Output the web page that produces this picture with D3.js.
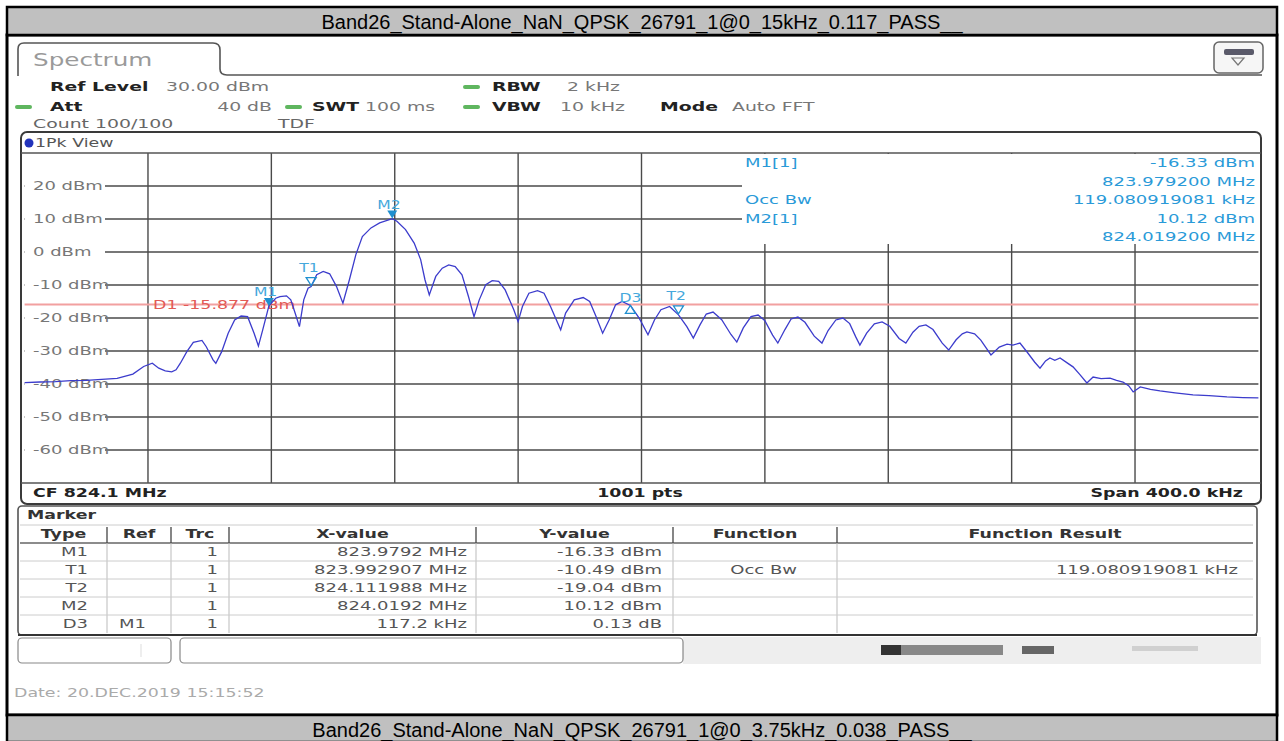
<!DOCTYPE html>
<html>
<head>
<meta charset="utf-8">
<script src="https://cdn.jsdelivr.net/npm/d3@7"></script>
<style>
  html, body { margin: 0; padding: 0; background: #fff; }
  svg { display: block; }
</style>
</head>
<body>
<svg id="chart" width="1284" height="741"></svg>
<script>
// ---------------- DATA ----------------
const titleTop = "Band26_Stand-Alone_NaN_QPSK_26791_1@0_15kHz_0.117_PASS__";
const titleBottom = "Band26_Stand-Alone_NaN_QPSK_26791_1@0_3.75kHz_0.038_PASS__";

const freqStartMHz = 823.9, freqStopMHz = 824.3;
const refLevel = 30, bottomLevel = -70;
const yTickValues = [20, 10, 0, -10, -20, -30, -40, -50, -60];
const xGridFreqs = [823.94, 823.98, 824.02, 824.06, 824.10, 824.14, 824.18, 824.22, 824.26];

// Trace (frequency in MHz, level in dBm)
const traceFreq = [
 823.9000,823.9050,823.9100,823.9150,823.9200,823.9250,823.9300,823.9351,823.9386,823.9414,
 823.9435,823.9456,823.9477,823.9491,823.9505,823.9526,823.9547,823.9575,823.9589,823.9611,
 823.9620,823.9639,823.9660,823.9681,823.9702,823.9723,823.9744,823.9758,823.9772,823.9786,
 823.9792,823.9814,823.9828,823.9849,823.9863,823.9877,823.9891,823.9905,823.9919,823.9929,
 823.9947,823.9968,823.9989,824.0011,824.0032,824.0053,824.0074,824.0095,824.0123,824.0151,
 824.0192,824.0207,824.0235,824.0263,824.0284,824.0298,824.0312,824.0333,824.0354,824.0375,
 824.0396,824.0418,824.0439,824.0457,824.0474,824.0495,824.0516,824.0537,824.0558,824.0586,
 824.0600,824.0614,824.0635,824.0663,824.0684,824.0705,824.0738,824.0754,824.0782,824.0811,
 824.0832,824.0853,824.0874,824.0895,824.0916,824.0937,824.0964,824.0993,824.1021,824.1042,
 824.1063,824.1091,824.1120,824.1147,824.1168,824.1190,824.1210,824.1232,824.1260,824.1290,
 824.1309,824.1330,824.1355,824.1378,824.1400,824.1425,824.1442,824.1465,824.1485,824.1507,
 824.1530,824.1560,824.1585,824.1605,824.1630,824.1653,824.1675,824.1695,824.1708,824.1730,
 824.1755,824.1780,824.1805,824.1835,824.1857,824.1880,824.1900,824.1922,824.1945,824.1975,
 824.1996,824.2020,824.2040,824.2055,824.2080,824.2100,824.2133,824.2160,824.2185,824.2204,
 824.2227,824.2250,824.2275,824.2292,824.2310,824.2324,824.2340,824.2357,824.2380,824.2399,
 824.2420,824.2444,824.2464,824.2490,824.2519,824.2540,824.2561,824.2580,824.2594,824.2617,
 824.2650,824.2681,824.2730,824.2788,824.2840,824.2898,824.2950,824.3000
];
const traceLevel = [
 -39.6,-39.4,-39.3,-39.0,-38.9,-38.6,-38.3,-37.0,-34.7,-33.7,
 -35.2,-36.0,-36.3,-35.7,-33.7,-30.2,-27.4,-26.8,-28.7,-32.7,
 -33.7,-30.2,-24.6,-20.6,-19.4,-19.6,-24.6,-28.5,-23.6,-18.5,
 -16.33,-14.0,-13.5,-13.3,-14.5,-18.5,-22.6,-14.5,-11.0,-10.49,
 -6.9,-5.9,-6.6,-10.4,-15.5,-8.4,-0.8,4.7,7.3,8.8,
 10.12,9.3,6.8,2.7,-2.3,-8.4,-13.0,-7.4,-4.9,-3.9,
 -4.4,-6.9,-13.5,-19.6,-14.5,-9.9,-8.7,-8.9,-11.5,-17.5,
 -21.1,-16.5,-12.5,-11.7,-12.5,-16.5,-23.6,-18.5,-14.5,-13.8,
 -15.0,-19.6,-24.6,-20.6,-16.0,-15.0,-16.2,-20.1,-25.1,-20.6,
 -17.5,-16.5,-19.04,-22.6,-26.1,-22.0,-18.8,-18.2,-20.5,-25.0,
 -27.3,-23.0,-19.6,-19.1,-20.8,-25.2,-27.6,-23.5,-20.3,-19.7,
 -21.3,-25.5,-27.6,-23.8,-20.6,-20.0,-21.7,-25.8,-28.2,-24.6,
 -21.8,-21.2,-22.5,-26.2,-27.6,-24.3,-22.5,-22.1,-23.5,-27.6,
 -29.7,-26.6,-24.8,-24.2,-24.8,-26.7,-31.2,-28.8,-27.9,-28.2,
 -27.6,-30.3,-33.4,-35.2,-33.0,-32.1,-32.8,-32.1,-33.6,-34.8,
 -37.0,-39.7,-37.9,-38.4,-38.2,-38.9,-39.4,-40.6,-42.4,-40.9,
 -41.6,-42.1,-42.7,-43.3,-43.5,-43.9,-44.1,-44.2
];

// Markers
const markerNames  = ["M1", "T1", "M2", "D3", "T2"];
const markerFreqs  = [823.9792, 823.992907, 824.0192, 824.0964, 824.111988];
const markerLevels = [-16.33, -10.49, 10.12, -16.20, -19.04];
const markerStyles = ["fill", "open", "fill", "delta", "open"];

const displayLineName = "D1";
const displayLineLevel = -15.877;

// Marker info box
const infoLeft  = ["M1[1]", "", "Occ Bw", "M2[1]", ""];
const infoRight = ["-16.33 dBm", "823.979200 MHz", "119.080919081 kHz", "10.12 dBm", "824.019200 MHz"];

// Marker table
const tableHeaders = ["Type", "Ref", "Trc", "X-value", "Y-value", "Function", "Function Result"];
const tableType   = ["M1", "T1", "T2", "M2", "D3"];
const tableRef    = ["", "", "", "", "M1"];
const tableTrc    = ["1", "1", "1", "1", "1"];
const tableX      = ["823.9792 MHz", "823.992907 MHz", "824.111988 MHz", "824.0192 MHz", "117.2 kHz"];
const tableY      = ["-16.33 dBm", "-10.49 dBm", "-19.04 dBm", "10.12 dBm", "0.13 dB"];
const tableFunc   = ["", "Occ Bw", "", "", ""];
const tableResult = ["", "119.080919081 kHz", "", "", ""];

const dateText = "Date: 20.DEC.2019   15:15:52";

// ---------------- DRAWING ----------------
const svg = d3.select("#chart");
const SX = 1.45;
const FONT = "DejaVu Sans";

function T(parent, x, y, s, o = {}) {
  return parent.append("text")
    .attr("transform", `translate(${x},${y}) scale(${o.sx ?? SX},1)`)
    .attr("text-anchor", o.anchor || "start")
    .attr("dominant-baseline", "central")
    .attr("font-family", o.family || FONT)
    .attr("font-size", o.size || 12)
    .attr("font-weight", o.weight || "normal")
    .attr("fill", o.fill || "#333")
    .text(s);
}

svg.append("rect").attr("width", 1284).attr("height", 741).attr("fill", "#fff");

// Title bars
function titleBar(y0, y1, text) {
  svg.append("rect").attr("x", 7).attr("y", y0).attr("width", 1270).attr("height", y1 - y0)
    .attr("fill", "#c0c0c0").attr("stroke", "#000").attr("stroke-width", 2.5);
  svg.append("text").attr("x", 642).attr("y", (y0 + y1) / 2 + 1)
    .attr("text-anchor", "middle").attr("dominant-baseline", "central")
    .attr("font-family", "Liberation Sans, Arial, sans-serif").attr("font-size", 20)
    .attr("fill", "#000").text(text);
}
// main white frame
svg.append("rect").attr("x", 7).attr("y", 35).attr("width", 1270).attr("height", 680)
  .attr("fill", "#fff").attr("stroke", "#000").attr("stroke-width", 3);
titleBar(7, 35, titleTop);
titleBar(715, 742, titleBottom);

// Spectrum tab
svg.append("path")
  .attr("d", "M18,76 L18,49 Q18,43 24,43 L213,43 Q220,43 220,50 L220,69 Q220,75 227,75 L1262,75")
  .attr("fill", "none").attr("stroke", "#555").attr("stroke-width", 1.6);
T(svg, 33, 60, "Spectrum", { size: 17, fill: "#9a9a9a" });

// icon at top right
svg.append("rect").attr("x", 1214).attr("y", 42).attr("width", 49).attr("height", 31).attr("rx", 5)
  .attr("fill", "#f6f6f6").attr("stroke", "#666").attr("stroke-width", 1.5);
svg.append("rect").attr("x", 1224).attr("y", 49).attr("width", 30).attr("height", 6).attr("rx", 2)
  .attr("fill", "#5a5a6a");
svg.append("path").attr("d", "M1232,58 L1244,58 L1238,65 Z").attr("fill", "none")
  .attr("stroke", "#777").attr("stroke-width", 1.2);

// header info rows
const green = "#5fb65f";
function dash(x, y) {
  svg.append("line").attr("x1", x).attr("x2", x + 13).attr("y1", y).attr("y2", y)
    .attr("stroke", green).attr("stroke-width", 4).attr("stroke-linecap", "round");
}
T(svg, 50, 87, "Ref Level", { size: 13, weight: "bold", fill: "#222" });
T(svg, 166, 87, "30.00 dBm", { size: 13, fill: "#777" });
dash(465, 87);
T(svg, 492, 87, "RBW", { size: 13, weight: "bold", fill: "#222" });
T(svg, 567, 87, "2 kHz", { size: 13, fill: "#777" });

dash(17, 107);
T(svg, 50, 107, "Att", { size: 13, weight: "bold", fill: "#222" });
T(svg, 272, 107, "40 dB", { size: 13, fill: "#777", anchor: "end" });
dash(287, 107);
T(svg, 312, 107, "SWT", { size: 13, weight: "bold", fill: "#222" });
T(svg, 365, 107, "100 ms", { size: 13, fill: "#777" });
dash(465, 107);
T(svg, 492, 107, "VBW", { size: 13, weight: "bold", fill: "#222" });
T(svg, 560, 107, "10 kHz", { size: 13, fill: "#777" });
T(svg, 660, 107, "Mode", { size: 13, weight: "bold", fill: "#222" });
T(svg, 732, 107, "Auto FFT", { size: 13, fill: "#777" });

T(svg, 33, 124, "Count 100/100", { size: 13, fill: "#666" });
T(svg, 278, 124, "TDF", { size: 13, fill: "#666" });

// ------------- Chart panel -------------
const x = d3.scaleLinear().domain([freqStartMHz, freqStopMHz]).range([24.6, 1258.4]);
const y = d3.scaleLinear().domain([bottomLevel, refLevel]).range([483, 153]);

svg.append("rect").attr("x", 21).attr("y", 132).attr("width", 1240).attr("height", 372).attr("rx", 6)
  .attr("fill", "#fff").attr("stroke", "#3a3a3a").attr("stroke-width", 2);
svg.append("circle").attr("cx", 29).attr("cy", 143).attr("r", 4.5).attr("fill", "#2233bb");
T(svg, 35, 143, "1Pk View", { size: 12, fill: "#555" });

const gridColor = "#4a4a4a";
const plot = svg.append("g");
// horizontal grid
plot.selectAll("line.h").data(yTickValues).join("line").attr("class", "h")
  .attr("x1", x.range()[0]).attr("x2", x.range()[1])
  .attr("y1", d => y(d)).attr("y2", d => y(d))
  .attr("stroke", gridColor).attr("stroke-width", 1.4);
// vertical grid
plot.selectAll("line.v").data(xGridFreqs).join("line").attr("class", "v")
  .attr("x1", d => x(d)).attr("x2", d => x(d))
  .attr("y1", y.range()[1]).attr("y2", y.range()[0])
  .attr("stroke", gridColor).attr("stroke-width", 1.4);
// plot frame
plot.append("line").attr("x1", 21).attr("x2", 1261).attr("y1", 153).attr("y2", 153)
  .attr("stroke", "#555").attr("stroke-width", 1.4);
plot.append("line").attr("x1", 21).attr("x2", 1261).attr("y1", 483).attr("y2", 483)
  .attr("stroke", "#555").attr("stroke-width", 1.4);

// white area behind marker info
plot.append("rect").attr("x", 742).attr("y", 154).attr("width", 517).attr("height", 90).attr("fill", "#fff");

// y labels with white background
const lab = plot.append("g");
yTickValues.forEach(v => {
  lab.append("rect").attr("x", 25).attr("y", y(v) - 7).attr("width", 80).attr("height", 14).attr("fill", "#fff");
  T(lab, 33, y(v), `${v} dBm`, { size: 12, fill: "#777", sx: 1.5 });
});

// D1 display line
plot.append("line").attr("x1", x.range()[0]).attr("x2", x.range()[1])
  .attr("y1", y(displayLineLevel)).attr("y2", y(displayLineLevel))
  .attr("stroke", "#f2a0a0").attr("stroke-width", 2);
T(plot, 153, y(displayLineLevel) + 1, `${displayLineName}  ${displayLineLevel.toFixed(3)} dBm`,
  { size: 12, fill: "#e25a55", sx: 1.45 });

// trace
const pts = traceFreq.map((f, i) => [f, traceLevel[i]]);
plot.append("path").datum(pts)
  .attr("d", d3.line().x(d => x(d[0])).y(d => y(d[1])))
  .attr("fill", "none").attr("stroke", "#3c3ccc").attr("stroke-width", 1.3);

// markers
const mColor = "#1f8fcf", mLabel = "#45a8dc";
markerNames.forEach((n, i) => {
  const px = x(markerFreqs[i]), py = y(markerLevels[i]);
  if (markerStyles[i] === "fill") {
    plot.append("path").attr("d", `M${px - 5},${py - 8} L${px + 5},${py - 8} L${px},${py} Z`).attr("fill", mColor);
    T(plot, px - 15, py - 14, n, { size: 12, fill: mLabel, sx: 1.3 });
  } else if (markerStyles[i] === "open") {
    plot.append("path").attr("d", `M${px - 5},${py - 9} L${px + 5},${py - 9} L${px},${py - 1} Z`)
      .attr("fill", "none").attr("stroke", mColor).attr("stroke-width", 1.3);
    T(plot, px - 12, py - 19, n, { size: 12, fill: mLabel, sx: 1.3 });
  } else {
    plot.append("path").attr("d", `M${px},${py} L${px + 5},${py + 8} L${px - 5},${py + 8} Z`)
      .attr("fill", "none").attr("stroke", mColor).attr("stroke-width", 1.3);
    T(plot, px - 11, py - 8, n, { size: 12, fill: mLabel, sx: 1.3 });
  }
});

// marker info text
const infoY = [163, 182, 200, 219, 237];
const infoColor = "#2a9ad8";
infoLeft.forEach((s, i) => { if (s) T(plot, 745, infoY[i], s, { size: 12, fill: infoColor, sx: 1.5 }); });
infoRight.forEach((s, i) => T(plot, 1255, infoY[i], s, { size: 12, fill: infoColor, anchor: "end", sx: 1.5 }));

// bottom info row
T(svg, 33, 493, "CF 824.1 MHz", { size: 12, weight: "bold", fill: "#222", sx: 1.45 });
T(svg, 640, 493, "1001 pts", { size: 12, weight: "bold", fill: "#222", anchor: "middle", sx: 1.45 });
T(svg, 1243, 493, "Span 400.0 kHz", { size: 12, weight: "bold", fill: "#222", anchor: "end", sx: 1.45 });

// ------------- Marker table -------------
const tbl = svg.append("g");
tbl.append("rect").attr("x", 18).attr("y", 506).attr("width", 1239).attr("height", 129).attr("rx", 4)
  .attr("fill", "#fff").attr("stroke", "#555").attr("stroke-width", 1.6);
T(tbl, 27, 515, "Marker", { size: 12, weight: "bold", fill: "#333", sx: 1.45 });

const colEdges = [20, 107, 171, 229, 476, 673, 837, 1253];
const rowTop = 525, rowH = 18;
// header
tbl.append("line").attr("x1", 20).attr("x2", 1253).attr("y1", rowTop).attr("y2", rowTop).attr("stroke", "#ccc");
tbl.append("line").attr("x1", 20).attr("x2", 1253).attr("y1", rowTop + rowH).attr("y2", rowTop + rowH)
  .attr("stroke", "#666").attr("stroke-width", 1.4);
colEdges.slice(1, -1).forEach(cx => {
  tbl.append("line").attr("x1", cx).attr("x2", cx).attr("y1", rowTop + 2).attr("y2", rowTop + rowH)
    .attr("stroke", "#444").attr("stroke-width", 1.3);
  tbl.append("line").attr("x1", cx).attr("x2", cx).attr("y1", rowTop + rowH).attr("y2", rowTop + rowH * 6)
    .attr("stroke", "#bbb").attr("stroke-width", 1);
});
tableHeaders.forEach((h, i) => {
  T(tbl, (colEdges[i] + colEdges[i + 1]) / 2, rowTop + rowH / 2, h,
    { size: 12, weight: "bold", fill: "#333", anchor: "middle", sx: 1.45 });
});
for (let r = 1; r < 5; r++) {
  tbl.append("line").attr("x1", 20).attr("x2", 1253).attr("y1", rowTop + rowH * (r + 1)).attr("y2", rowTop + rowH * (r + 1))
    .attr("stroke", "#ccc");
}
tbl.append("line").attr("x1", 18).attr("x2", 1257).attr("y1", 635).attr("y2", 635)
  .attr("stroke", "#333").attr("stroke-width", 2);

const colRight = [88, 146, 218, 467, 662, 797, 1238];
const cols = [tableType, tableRef, tableTrc, tableX, tableY, tableFunc, tableResult];
cols.forEach((col, c) => {
  col.forEach((s, r) => {
    if (s) T(tbl, colRight[c], rowTop + rowH * (r + 1) + rowH / 2, s,
      { size: 12, fill: "#555", anchor: "end", sx: 1.5 });
  });
});

// ------------- bottom status -------------
const st = svg.append("g");
st.append("rect").attr("x", 683).attr("y", 637).attr("width", 578).attr("height", 27)
  .attr("fill", "#eeeeee");
st.append("rect").attr("x", 18).attr("y", 638).attr("width", 153).attr("height", 25).attr("rx", 4)
  .attr("fill", "#fff").attr("stroke", "#888").attr("stroke-width", 1.2);
st.append("line").attr("x1", 141).attr("x2", 141).attr("y1", 644).attr("y2", 657).attr("stroke", "#ddd");
st.append("rect").attr("x", 180).attr("y", 638).attr("width", 503).attr("height", 25).attr("rx", 4)
  .attr("fill", "#fff").attr("stroke", "#888").attr("stroke-width", 1.2);
st.append("rect").attr("x", 881).attr("y", 645).attr("width", 20).attr("height", 10).attr("fill", "#333");
st.append("rect").attr("x", 901).attr("y", 645).attr("width", 102).attr("height", 10).attr("fill", "#888");
st.append("rect").attr("x", 1022).attr("y", 646).attr("width", 32).attr("height", 8).attr("fill", "#666");
st.append("rect").attr("x", 1132).attr("y", 646).attr("width", 66).attr("height", 5).attr("fill", "#d0d0d0");

T(svg, 14, 693, dateText, { size: 12, fill: "#aaa", sx: 1.45 });
</script>
</body>
</html>
